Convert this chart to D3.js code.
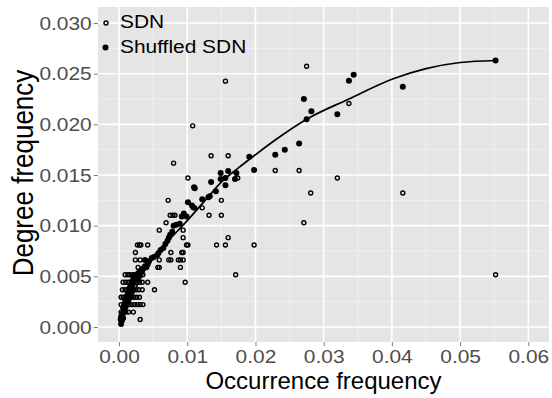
<!DOCTYPE html>
<html>
<head>
<meta charset="utf-8">
<script src="https://cdn.jsdelivr.net/npm/d3@7"></script>
<style>
  body { margin: 0; background: #fff; }
  text { font-family: "Liberation Sans", Arial, sans-serif; }
</style>
</head>
<body>
<div id="scatter"></div>
<script>
// tick values
var xTicks = [0, 0.01, 0.02, 0.03, 0.04, 0.05, 0.06];
var yTicks = [0, 0.005, 0.010, 0.015, 0.020, 0.025, 0.030];
var legendLabels = ["SDN", "Shuffled SDN"];

// SDN (open circles): occurrence / degree frequency
var sdnOcc = [
  0.0002, 0.0005, 0.0031,
  0.0003, 0.0006, 0.0010, 0.0014, 0.0021,
  0.0003, 0.0007, 0.0011, 0.0015, 0.0019, 0.0023, 0.0027, 0.0031, 0.0035,
  0.0003, 0.0006, 0.0010, 0.0014, 0.0018, 0.0022, 0.0026, 0.0030,
  0.0005, 0.0009, 0.0013, 0.0017, 0.0021, 0.0025, 0.0029, 0.0034, 0.0052,
  0.0006, 0.0010, 0.0014, 0.0018, 0.0022, 0.0026, 0.0030, 0.0034, 0.0042, 0.0097,
  0.0009, 0.0013, 0.0016, 0.0020, 0.0024, 0.0027, 0.0031, 0.0035, 0.0171, 0.0552,
  0.0028, 0.0057, 0.0059, 0.0090,
  0.0024, 0.0031, 0.0059, 0.0073, 0.0076, 0.0087, 0.0090, 0.0094,
  0.0024, 0.0076, 0.0092, 0.0094,
  0.0027, 0.0030, 0.0032, 0.0042, 0.0099, 0.0101, 0.0143, 0.0156, 0.0198,
  0.0094, 0.0160,
  0.0059, 0.0094,
  0.0069, 0.0271,
  0.0075, 0.0079, 0.0082, 0.0132, 0.0150,
  0.0111, 0.0122,
  0.0072, 0.0150,
  0.0281, 0.0416,
  0.0101, 0.0174, 0.0320,
  0.0229, 0.0264,
  0.0080,
  0.0135, 0.0160,
  0.0108,
  0.0337,
  0.0156,
  0.0275
];
var sdnDeg = [
  0.00074, 0.00074, 0.00074,
  0.00147, 0.00147, 0.00147, 0.00147, 0.00147,
  0.00221, 0.00221, 0.00221, 0.00221, 0.00221, 0.00221, 0.00221, 0.00221, 0.00221,
  0.00294, 0.00294, 0.00294, 0.00294, 0.00294, 0.00294, 0.00294, 0.00294,
  0.00368, 0.00368, 0.00368, 0.00368, 0.00368, 0.00368, 0.00368, 0.00368, 0.00368,
  0.00441, 0.00441, 0.00441, 0.00441, 0.00441, 0.00441, 0.00441, 0.00441, 0.00441, 0.00441,
  0.00515, 0.00515, 0.00515, 0.00515, 0.00515, 0.00515, 0.00515, 0.00515, 0.00515, 0.00515,
  0.00588, 0.00588, 0.00588, 0.00588,
  0.00662, 0.00662, 0.00662, 0.00662, 0.00662, 0.00662, 0.00662, 0.00662,
  0.00735, 0.00735, 0.00735, 0.00735,
  0.00809, 0.00809, 0.00809, 0.00809, 0.00809, 0.00809, 0.00809, 0.00809, 0.00809,
  0.00882, 0.00882,
  0.00956, 0.00956,
  0.01029, 0.01029,
  0.01103, 0.01103, 0.01103, 0.01103, 0.01103,
  0.01176, 0.01176,
  0.01250, 0.01250,
  0.01323, 0.01323,
  0.01470, 0.01470, 0.01470,
  0.01544, 0.01544,
  0.01617,
  0.01690, 0.01690,
  0.01985,
  0.02205,
  0.02426,
  0.02573
];

// Shuffled SDN (filled dots)
var shufOcc = [
  0.0003, 0.0004, 0.0003, 0.0005, 0.0006, 0.0007, 0.0008, 0.0006, 0.0010, 0.0009,
  0.0012, 0.0011, 0.0014, 0.0013, 0.0016, 0.0015, 0.0018, 0.0017, 0.0020, 0.0019,
  0.0022, 0.0021, 0.0024, 0.0023, 0.0026, 0.0027, 0.0028, 0.0030, 0.0031, 0.0033,
  0.0034, 0.0036, 0.0038, 0.0040, 0.0042, 0.0038, 0.0044, 0.0048, 0.0051, 0.0056,
  0.0058, 0.0061, 0.0065, 0.0068, 0.0071, 0.0073, 0.0075, 0.0078, 0.0080, 0.0084,
  0.0089, 0.0092, 0.0095,
  0.0099, 0.0101, 0.0107, 0.0109, 0.0110, 0.0111, 0.0122, 0.0131, 0.0133, 0.0135,
  0.0142, 0.0149, 0.0149, 0.0156, 0.0156, 0.0160, 0.0170, 0.0172, 0.0191, 0.0198,
  0.0229, 0.0243, 0.0264, 0.0275, 0.0271, 0.0282, 0.0320, 0.0337, 0.0344, 0.0416,
  0.0552
];
var shufDeg = [
  0.0003, 0.0006, 0.0010, 0.0013, 0.0009, 0.0016, 0.0020, 0.0019, 0.0022, 0.0026,
  0.0025, 0.0030, 0.0029, 0.0033, 0.0034, 0.0038, 0.0037, 0.0041, 0.0042, 0.0045,
  0.0046, 0.0049, 0.0048, 0.0051, 0.0050, 0.0047, 0.0053, 0.0051, 0.0055, 0.0054,
  0.0057, 0.0058, 0.0060, 0.0059, 0.0062, 0.0066, 0.0065, 0.0068, 0.0069, 0.0071,
  0.0073, 0.0076, 0.0078, 0.0082, 0.0085, 0.0088, 0.0091, 0.0094, 0.0100, 0.0101,
  0.0102, 0.0109, 0.0112,
  0.0109, 0.0123, 0.0120, 0.0118, 0.0138, 0.0137, 0.0126, 0.0128, 0.0129, 0.0143,
  0.0134, 0.0152, 0.0146, 0.0147, 0.0140, 0.0154, 0.0146, 0.0152, 0.0168, 0.0155,
  0.0170, 0.0175, 0.0181, 0.0205, 0.0225, 0.0213, 0.0210, 0.0243, 0.0249, 0.0237,
  0.0263
];

// smooth fit line
var fitOcc = [0.0003, 0.001, 0.002, 0.003, 0.004, 0.005, 0.006, 0.0075, 0.010, 0.0125,
  0.015, 0.0175, 0.020, 0.023, 0.0275, 0.0337, 0.0402, 0.045, 0.050, 0.0552];
var fitDeg = [0.0003, 0.0015, 0.0031, 0.0046, 0.0059, 0.0068, 0.0076, 0.0087, 0.0105, 0.0124,
  0.0143, 0.0157, 0.0170, 0.0185, 0.0205, 0.0225, 0.0245, 0.0255, 0.0261, 0.0263];

var W = 552, H = 398;
var margin = {top: 7, right: 3, bottom: 56, left: 98},
    width = W - margin.left - margin.right,
    height = H - margin.top - margin.bottom;
var stretch = 1.1;

var svg = d3.select("#scatter")
  .append("svg")
    .attr("width", W)
    .attr("height", H);

var g = svg.append("g")
    .attr("transform", "translate(" + margin.left + "," + margin.top + ")");

var x = d3.scaleLinear()
    .domain([-0.00308, 0.06303])
    .range([0, width]);
var y = d3.scaleLinear()
    .domain([-0.00148, 0.03158])
    .range([height, 0]);

// panel + grid
g.append("rect")
    .attr("width", width)
    .attr("height", height)
    .attr("fill", "#E5E5E5");

var xMinor = xTicks.map(function(d) { return d + 0.005; }).filter(function(d) { return d < 0.063; });
var yMinor = yTicks.map(function(d) { return d + 0.0025; }).filter(function(d) { return d < 0.0315; });

g.selectAll(".xminor").data(xMinor).enter().append("line")
    .attr("x1", function(d) { return x(d); }).attr("x2", function(d) { return x(d); })
    .attr("y1", 0).attr("y2", height)
    .attr("stroke", "#F2F2F2").attr("stroke-width", 0.8);
g.selectAll(".yminor").data(yMinor).enter().append("line")
    .attr("y1", function(d) { return y(d); }).attr("y2", function(d) { return y(d); })
    .attr("x1", 0).attr("x2", width)
    .attr("stroke", "#F2F2F2").attr("stroke-width", 0.8);
g.selectAll(".xmajor").data(xTicks).enter().append("line")
    .attr("x1", function(d) { return x(d); }).attr("x2", function(d) { return x(d); })
    .attr("y1", 0).attr("y2", height)
    .attr("stroke", "#fff").attr("stroke-width", 1.6);
g.selectAll(".ymajor").data(yTicks).enter().append("line")
    .attr("y1", function(d) { return y(d); }).attr("y2", function(d) { return y(d); })
    .attr("x1", 0).attr("x2", width)
    .attr("stroke", "#fff").attr("stroke-width", 1.6);

// axes
var xAxis = g.append("g")
    .attr("transform", "translate(0," + height + ")")
    .call(d3.axisBottom(x).tickValues(xTicks).tickFormat(d3.format(".2f")).tickSize(4.3).tickPadding(3));
var yAxis = g.append("g")
    .call(d3.axisLeft(y).tickValues(yTicks).tickFormat(d3.format(".3f")).tickSize(4.3).tickPadding(2));

[xAxis, yAxis].forEach(function(a) {
  a.select(".domain").remove();
  a.selectAll(".tick line").attr("stroke", "#808080").attr("stroke-width", 1);
  a.selectAll(".tick text")
    .attr("fill", "#4D4D4D")
    .style("font-size", "19px")
    .style("font-family", "Liberation Sans, Arial, sans-serif")
    .attr("transform", function() {
      var tx = +d3.select(this).attr("x") || 0;
      return "translate(" + tx + ",0) scale(" + stretch + ",1) translate(" + (-tx) + ",0)";
    });
});

// points: SDN open circles
var sdn = sdnOcc.map(function(d, i) { return {x: d, y: sdnDeg[i]}; });
var shuf = shufOcc.map(function(d, i) { return {x: d, y: shufDeg[i]}; });

g.append("g").selectAll("circle")
  .data(sdn)
  .enter()
  .append("circle")
    .attr("cx", function(d) { return x(d.x); })
    .attr("cy", function(d) { return y(d.y); })
    .attr("r", 2)
    .attr("fill", "none")
    .attr("stroke", "#000")
    .attr("stroke-width", 1.4);

// shuffled SDN filled dots
g.append("g").selectAll("circle")
  .data(shuf)
  .enter()
  .append("circle")
    .attr("cx", function(d) { return x(d.x); })
    .attr("cy", function(d) { return y(d.y); })
    .attr("r", 3)
    .attr("fill", "#000");

// fit line
var line = d3.line()
    .x(function(d) { return x(d); })
    .y(function(d, i) { return y(fitDeg[i]); })
    .curve(d3.curveMonotoneX);
g.append("path")
    .datum(fitOcc)
    .attr("d", line)
    .attr("fill", "none")
    .attr("stroke", "#000")
    .attr("stroke-width", 1.7);

// legend (inside panel, top left)
var leg = svg.append("g");
leg.append("circle").attr("cx", 106).attr("cy", 23).attr("r", 2)
    .attr("fill", "none").attr("stroke", "#000").attr("stroke-width", 1.4);
leg.append("circle").attr("cx", 105.5).attr("cy", 47.5).attr("r", 3).attr("fill", "#000");
leg.selectAll("text")
  .data(legendLabels)
  .enter()
  .append("text")
    .attr("x", 120)
    .attr("y", function(d, i) { return 28.5 + i * 24.5; })
    .attr("transform", "translate(120,0) scale(" + stretch + ",1) translate(-120,0)")
    .style("font-size", "19px")
    .text(function(d) { return d; });

// axis titles
svg.append("text")
    .attr("text-anchor", "middle")
    .attr("x", margin.left + width / 2)
    .attr("y", 389)
    .style("font-size", "24px")
    .text("Occurrence frequency");

svg.append("g")
    .attr("transform", "translate(33,173) scale(" + stretch + ",1)")
  .append("text")
    .attr("text-anchor", "middle")
    .attr("transform", "rotate(-90)")
    .style("font-size", "26px")
    .text("Degree frequency");
</script>
</body>
</html>
